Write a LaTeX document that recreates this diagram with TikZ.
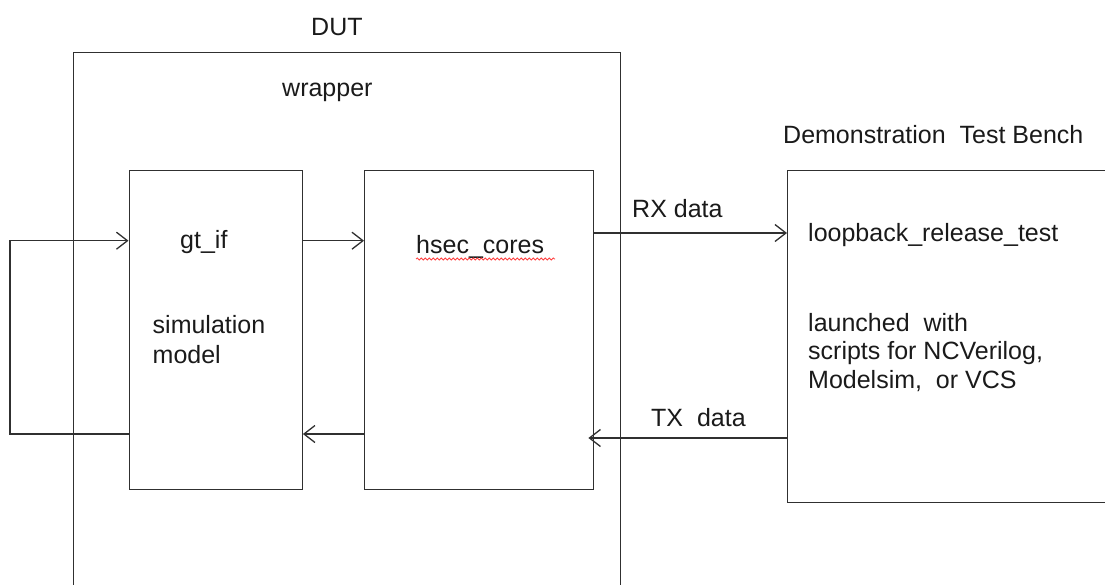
\documentclass[tikz,border=0pt]{standalone}
\usepackage{fontspec}
\setmainfont{Liberation Sans}
\usetikzlibrary{arrows.meta,decorations.pathmorphing,calc}
\definecolor{ln}{HTML}{303030}
\definecolor{tx}{HTML}{1A1A1A}
\begin{document}
\begin{tikzpicture}[x=1pt,y=-1pt,
  box/.style={draw=ln,line width=1.4pt,inner sep=0pt,anchor=north west},
  lbl/.style={inner sep=0pt,anchor=base west,text=tx,font=\fontsize{25}{30}\selectfont},
  conn/.style={draw=ln,line width=1.3pt},
  arr/.style={conn,-{Straight Barb[length=11pt,width=17pt,line width=1.3pt]}}]
\useasboundingbox (0,0) rectangle (1105,584);
\clip (0,0) rectangle (1105,584);
% boxes
\node[box,minimum width=547.5pt,minimum height=560pt] (wrap) at (72.5,52) {};
\node[box,minimum width=173pt,minimum height=319pt] (gt) at (128.5,170) {};
\node[box,minimum width=229pt,minimum height=319pt] (hsec) at (364,170) {};
\node[box,minimum width=340pt,minimum height=332pt] (tb) at (787,170) {};
% labels
\node[lbl] (dut) at (311,35) {DUT};
\node[lbl] (wlbl) at (282,96) {wrapper};
\node[lbl] (gtl) at (180,248) {gt\_if};
\node[lbl,align=left,anchor=north west,font=\fontsize{25}{30}\selectfont] (sim) at (152.5,315) {simulation\\model};
\node[lbl] (hl) at (416,253) {hsec\_cores};
\node[lbl] (tbl) at (783,143) {Demonstration\ \ Test Bench};
\node[lbl] (lb) at (808,241) {loopback\_release\_test};
\node[lbl,align=left,anchor=north west,font=\fontsize{25}{28.5}\selectfont] (lw) at (808,313) {launched\ \ with\\scripts for NCVerilog,\\Modelsim,\ \ or VCS};
\node[lbl] (rx) at (632,217) {RX data};
\node[lbl] (txl) at (651,426) {TX\ \ data};
% spellcheck squiggle
\draw[red!75,line width=0.8pt,decorate,decoration={snake,amplitude=1pt,segment length=4pt}] (416,259) -- (555,259);
% connector y levels
\coordinate (yA) at (0,240.7);
\coordinate (yB) at (0,434);
\coordinate (yR) at (0,233);
\coordinate (yT) at (0,438);
\coordinate (lx1) at (10,434);
\coordinate (lx2) at (10,240.7);
% connectors
\draw[arr] (gt.west |- yB) -- (lx1) -- (lx2) -- (gt.west |- yA);
\draw[arr] (gt.east |- yA) -- (hsec.west |- yA);
\draw[arr] (hsec.west |- yB) -- (gt.east |- yB);
\draw[arr] (hsec.east |- yR) -- (tb.west |- yR);
\draw[arr] (tb.west |- yT) -- ($(hsec.east |- yT)+(-6,0)$);
\end{tikzpicture}
\end{document}
